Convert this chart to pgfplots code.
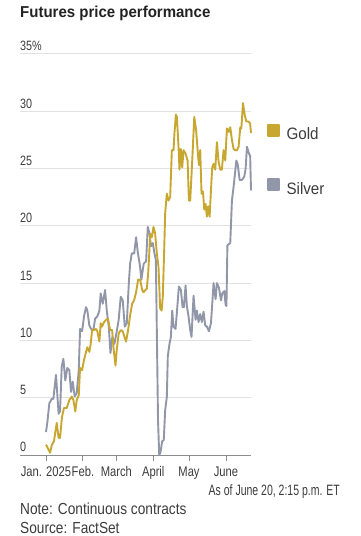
\documentclass[border=0pt]{standalone}
\usepackage{pgfplots}
\pgfplotsset{compat=1.18}
\usepackage{fontspec}
\setmainfont{Liberation Sans}
\newfontfamily\ftitle[FakeStretch=0.95]{Liberation Sans}
\newfontfamily\ftick[FakeStretch=0.80]{Liberation Sans}
\newfontfamily\fleg[FakeStretch=0.92]{Liberation Sans}
\newfontfamily\fnote[FakeStretch=0.855]{Liberation Sans}
\newfontfamily\fasof[FakeStretch=0.70]{Liberation Sans}
\definecolor{goldc}{RGB}{200,167,48}
\definecolor{silverc}{RGB}{145,150,168}
\definecolor{gridc}{RGB}{226,226,226}
\definecolor{axisc}{RGB}{140,140,140}
\definecolor{txt}{RGB}{60,60,60}
\definecolor{ttl}{RGB}{34,34,34}

\pgfplotstableread{
day val
0 2.0
1.1 2.8
2.8 4.5
4.8 4.9
6.2 4.9
8.4 7.0
10.6 3.6
11.8 3.8
13.2 7.7
14.6 8.4
16.2 6.5
17.9 7.6
19.6 7.4
21 5.5
22.4 6.4
24.1 5.1
25.8 5.4
27.5 7.4
28.6 11.0
30.3 10.8
31.9 12.1
33.6 12.9
34.7 12.6
36.4 11.3
38.4 10.9
39.8 10.9
41.2 11.9
43.1 12.1
44.8 12.6
45.9 14.1
47.6 13.2
49.6 14.4
51 12.6
52.7 11.2
54.1 8.9
55.7 10.3
57.4 9.7
59.4 10.8
61 11.8
62.7 13.8
64.4 13.5
66.1 11.2
67.8 11.5
69.5 15.0
70.6 16.7
72 17.6
74 17.6
75.6 19.0
77 17.7
79 16.4
80 15.3
82 16.7
84 16.9
85.4 19.9
87 19.3
88 18.2
89.6 18.5
91 17.6
92.2 17.0
94 3.0
95 0.0
96 0.2
97.5 1.2
98.8 1.3
100 3.9
101.4 5.1
102.2 8.6
103.6 9.7
104.8 10.3
105.9 12.6
107 11.2
108.7 11.0
109.8 12.4
111.5 14.7
113.2 14.4
114.6 12.9
115.7 12.9
117.1 14.8
118.2 13.0
119.6 12.1
121 10.9
122.1 10.3
123.8 13.9
125.5 11.8
126.6 12.6
128 11.6
129.4 12.3
130.8 11.6
132.2 12.5
133.6 11.3
135 11.2
136.7 10.8
138.4 11.5
139.5 13.2
140.6 15.0
142.3 13.6
143.4 15.0
145.1 14.6
146.8 13.5
147.9 14.1
149.6 14.3
150.7 13.1
151.4 13.0
152.2 18.3
154.6 18.5
156 22.2
157.4 23.4
159.7 25.7
160.8 25.4
162.5 24.0
164.4 24.0
166.4 24.3
167.5 25.0
168.6 26.9
170.3 26.3
171.3 26.1
172 23.1
}\silver

\pgfplotstableread{
day val
0 0.9
1.1 0.7
3.4 0.2
5 0.9
6.7 1.2
9 2.8
10.6 1.5
11.8 1.5
13.4 3.3
15.1 4.1
17.4 4.1
19.6 4.8
21.6 5.1
23 4.8
24.6 3.8
25.8 4.8
27.5 5.2
28.6 7.6
30.3 7.4
31.9 8.3
33.6 9.0
34.7 9.4
36.4 9.0
37.5 9.7
38.7 10.9
40.3 10.9
42 11.0
43.1 10.8
44.8 9.9
45.9 11.5
47 11.2
48.7 11.6
50.4 11.8
52 11.9
53.8 10.9
55.5 10.9
56.6 9.4
58.3 7.8
59.4 9.2
61 10.6
62.7 10.9
64.4 10.8
66.1 10.2
67.2 9.9
68.9 10.9
70.6 12.2
72.3 13.2
73.9 13.5
75.6 14.2
77.3 15.3
79 15.3
80.7 14.4
81.8 14.2
83.5 14.4
84.6 14.5
85.7 15.8
86.5 17.3
87.4 19.3
88.8 19.0
90.2 19.9
91.6 19.3
93 17.6
94.4 16.4
95.8 12.8
97 12.6
98 13.8
99.2 18.0
100 21.1
101.4 22.8
102.8 22.2
104.2 22.5
105.6 26.6
107 26.6
107.8 28.1
109 29.7
109.8 29.5
111.2 26.9
112 24.9
113.2 26.7
114.3 25.1
115.4 26.6
117.1 26.3
118.8 25.7
119.9 22.2
121 22.2
122.7 25.7
124.4 29.5
126 28.3
127.2 26.6
128.3 25.3
129.4 26.6
130.5 22.8
131.7 23.0
132.8 21.4
133.9 21.9
135 20.8
136.1 21.7
137.3 20.8
138.4 23.1
139.5 25.1
140.6 25.4
142 24.9
143.4 27.3
144.8 25.6
146.2 24.9
147.6 24.9
149 26.6
150.4 25.7
151.8 28.5
153.2 28.2
154.6 28.6
156 27.5
157.4 26.7
158.8 26.6
160.2 26.6
161.6 26.9
163 28.6
163.9 28.5
165.3 30.7
166.7 29.7
168.1 29.1
170 29.1
171.3 28.9
172 28.1
}\gold

\begin{document}
\begin{tikzpicture}
\path[use as bounding box] (0,0) rectangle (360pt,536pt);
\node[anchor=base west, inner sep=0pt, text=ttl, font=\ftitle\bfseries\fontsize{15.8}{18}\selectfont] at (20pt,518.5pt) {Futures price performance};
\begin{axis}[
  scale only axis, width=231pt, height=401.1pt,
  at={(20pt,81pt)}, anchor=south west,
  xmin=-21.8, xmax=172, ymin=0, ymax=35,
  clip=false,
  axis lines*=left,
  y axis line style={draw=none},
  x axis line style={draw=axisc, line width=0.9pt},
  xtick={0,31,59,90,120,151},
  xticklabels={Jan. 2025,Feb.,March,April,May,June},
  xtick align=outside,
  x tick style={draw=axisc, line width=0.9pt},
  major tick length=5.5pt,
  ytick={0,5,...,35},
  yticklabels={0,5,10,15,20,25,30,35\%},
  y tick style={draw=none},
  ymajorgrids, grid style={draw=gridc, line width=0.9pt},
  /pgf/number format/assume math mode=true,
  yticklabel style={anchor=base west, inner sep=0pt, xshift=0pt, yshift=3pt, font=\ftick\fontsize{13.5}{15}\selectfont, text=txt},
  xticklabel style={anchor=base, inner sep=0pt, yshift=-16.2pt, font=\ftick\fontsize{14}{16}\selectfont, text=txt},
  reverse legend,
  legend cell align=left,
  legend image code/.code={\fill[#1] (0pt,-1pt) rectangle (10.6pt,9.6pt);},
  legend style={at={(axis description cs:1.0693,0.8252)}, anchor=north west, draw=none, fill=none, inner sep=0pt, outer sep=0pt, row sep=37pt, column sep=7pt, font=\fleg\fontsize{16.5}{18}\selectfont, text=txt, nodes={inner sep=0pt}},
]
\addplot[silverc, line width=1.9pt, line join=round] table[x=day,y=val] {\silver};
\addlegendentry{Silver}
\addplot[goldc, line width=1.9pt, line join=round] table[x=day,y=val] {\gold};
\addlegendentry{Gold}
\end{axis}
\node[anchor=base east, inner sep=0pt, text=txt, font=\fasof\fontsize{15}{17}\selectfont] at (340pt,40pt) {As of June 20, 2:15 p.m. ET};
\node[anchor=base west, inner sep=0pt, text=txt, font=\fnote\fontsize{16}{18}\selectfont] at (20pt,21pt) {Note: Continuous contracts};
\node[anchor=base west, inner sep=0pt, text=txt, font=\fnote\fontsize{16}{18}\selectfont] at (20pt,2.5pt) {Source: FactSet};
\end{tikzpicture}
\end{document}
